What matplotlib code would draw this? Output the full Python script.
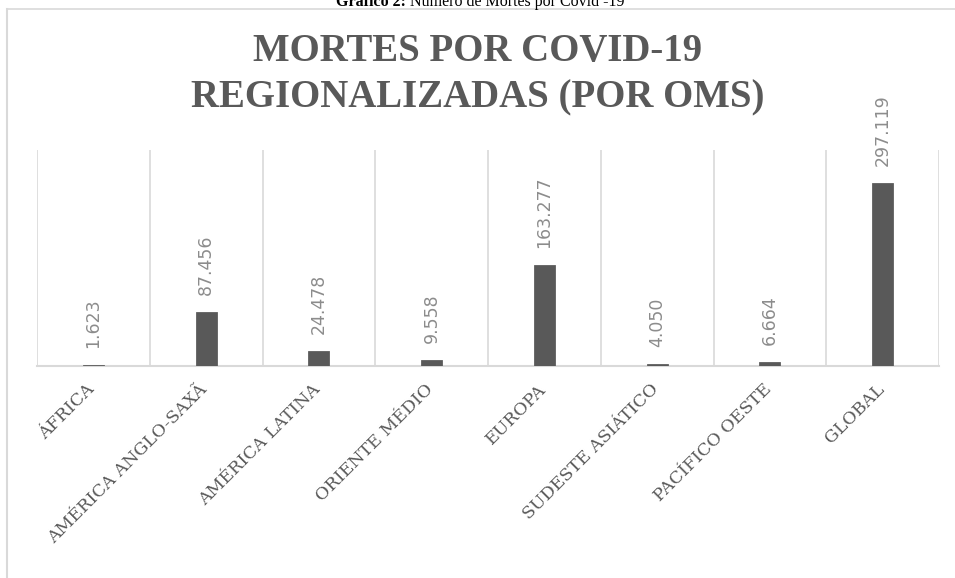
import matplotlib
matplotlib.use("Agg")
import matplotlib.pyplot as plt
from matplotlib.lines import Line2D

categories = ["ÁFRICA", "AMÉRICA ANGLO-SAXÃ", "AMÉRICA LATINA", "ORIENTE MÉDIO",
              "EUROPA", "SUDESTE ASIÁTICO", "PACÍFICO OESTE", "GLOBAL"]
deaths = [1623, 87456, 24478, 9558, 163277, 4050, 6664, 297119]
title_lines = ["MORTES POR COVID-19", "REGIONALIZADAS (POR OMS)"]
header_bold = "Gráfico 2:"
header_rest = " Número de Mortes por Covid -19"

W, H = 955, 578
fig = plt.figure(figsize=(W / 100, H / 100), dpi=100)
fig.patch.set_facecolor("white")

def fx(px):
    return px / W

def fy(py):
    return 1 - py / H

# outer chart border (light gray), top and left visible
fig.add_artist(Line2D([fx(7), fx(955)], [fy(9), fy(9)], color="#d9d9d9", lw=1.2))
fig.add_artist(Line2D([fx(7), fx(7)], [fy(9), fy(578)], color="#d9d9d9", lw=1.5))

left, right, top, bottom = 37, 939, 150, 366
ax = fig.add_axes([fx(left), fy(bottom), fx(right - left), fy(top) - fy(bottom)])
x = list(range(len(categories)))
ax.bar(x, deaths, width=0.185, color="#595959", edgecolor="#5f5f5f", linewidth=0.6, zorder=3)
ax.set_xlim(-0.5, len(categories) - 0.5)
ax.set_ylim(0, 350000)
for s in ["top", "right", "left"]:
    ax.spines[s].set_visible(False)
ax.spines["bottom"].set_color("#d9d9d9")
ax.spines["bottom"].set_linewidth(1.5)
ax.set_yticks([])
ax.set_xticks([i - 0.5 for i in range(len(categories) + 1)], minor=False)
ax.set_xticklabels([])
ax.tick_params(axis="x", length=0)
ax.grid(axis="x", color="#d9d9d9", linewidth=1.2, zorder=0)

for i, v in enumerate(deaths):
    lab = f"{v:,}".replace(",", ".")
    ax.annotate(lab, xy=(i, v), xytext=(0, 17), textcoords="offset pixels",
                rotation=90, ha="center", va="bottom", fontsize=12.5,
                color="#8c8c8c", family="DejaVu Sans", annotation_clip=False)

for i, c in enumerate(categories):
    ax.annotate(c, xy=(i, 0), xytext=(-1, -21), textcoords="offset pixels",
                rotation=45, rotation_mode="anchor", ha="right", va="center",
                fontsize=12.5, color="#595959", family="DejaVu Serif",
                annotation_clip=False)

fig.text(0.5, fy(52), title_lines[0], ha="center", va="center", fontsize=28,
         fontweight="bold", color="#595959", family="Liberation Serif")
fig.text(0.5, fy(98), title_lines[1], ha="center", va="center", fontsize=28,
         fontweight="bold", color="#595959", family="Liberation Serif")

# header caption (cut at the top of the image, as in the source)
t1 = fig.text(0, fy(6), header_bold, ha="left", va="baseline", fontsize=11.5,
              fontweight="bold", color="black", family="Liberation Serif")
t2 = fig.text(0, fy(6), header_rest, ha="left", va="baseline", fontsize=11.5,
              color="black", family="Liberation Serif")
fig.canvas.draw()
r = fig.canvas.get_renderer()
w1 = t1.get_window_extent(r).width
w2 = t2.get_window_extent(r).width
start = 480 - (w1 + w2) / 2
t1.set_x(fx(start))
t2.set_x(fx(start + w1))

fig.savefig("out.png", dpi=100)
